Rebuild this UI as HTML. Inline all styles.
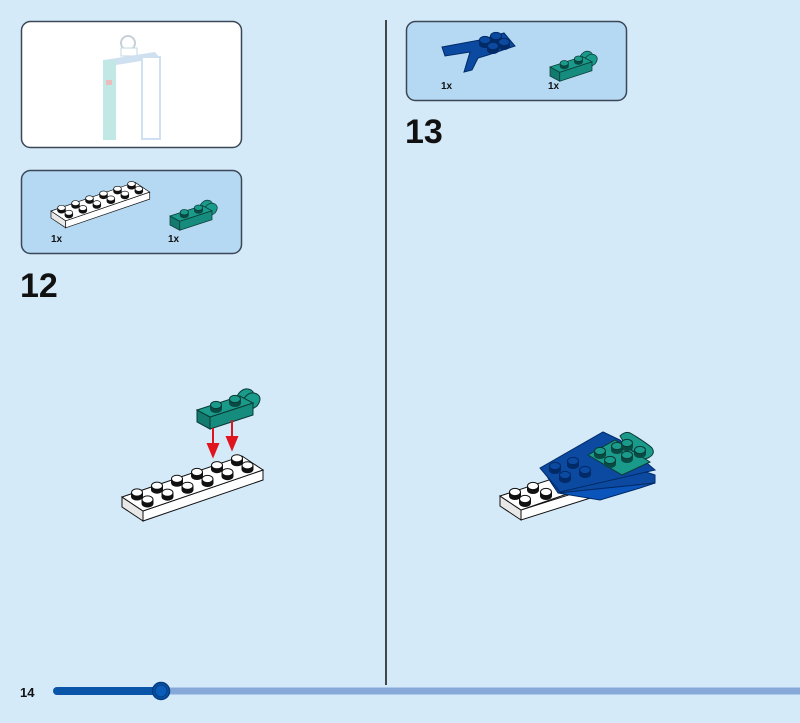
<!DOCTYPE html>
<html><head><meta charset="utf-8"><style>
html,body{margin:0;padding:0;background:#d4eaf9;}
body{width:800px;height:718px;overflow:hidden;font-family:"Liberation Sans",sans-serif;}
</style></head><body>
<svg width="800" height="718" viewBox="0 0 800 718" xmlns="http://www.w3.org/2000/svg">
<defs>
 <g id="ws"><ellipse cx="0" cy="0" rx="6" ry="4" fill="#111"/><rect x="-6" y="-4" width="12" height="4" fill="#111"/><ellipse cx="0" cy="-4" rx="5.5" ry="3.6" fill="#fff" stroke="#111" stroke-width="1"/></g>
 <g id="gs"><ellipse cx="0" cy="0" rx="6" ry="4" fill="#0a4a44"/><rect x="-6" y="-4" width="12" height="4" fill="#0a4a44"/><ellipse cx="0" cy="-4" rx="5.5" ry="3.6" fill="#1a9a8a" stroke="#0a3a34" stroke-width="1"/></g>
 <g id="bs"><ellipse cx="0" cy="0" rx="6" ry="4" fill="#012a66"/><rect x="-6" y="-4" width="12" height="4" fill="#012a66"/><ellipse cx="0" cy="-4" rx="5.5" ry="3.6" fill="#0b4aa0" stroke="#012a66" stroke-width="1"/></g>
 <g id="plate">
  <polygon points="0,0 21,14 21,24 0,10" fill="#e8e8e8" stroke="#111" stroke-width="1"/>
  <polygon points="21,14 141,-27 141,-17 21,24" fill="#fff" stroke="#111" stroke-width="1"/>
  <polygon points="0,0 120,-41 141,-27 21,14" fill="#fff" stroke="#111" stroke-width="1"/>
  <use href="#ws" x="15" y="-0.5"/><use href="#ws" x="35" y="-7.3"/><use href="#ws" x="55" y="-14.2"/><use href="#ws" x="75" y="-21"/><use href="#ws" x="95" y="-27.8"/><use href="#ws" x="115" y="-34.7"/>
  <use href="#ws" x="25.5" y="6.5"/><use href="#ws" x="45.5" y="-0.3"/><use href="#ws" x="65.5" y="-7.2"/><use href="#ws" x="85.5" y="-14"/><use href="#ws" x="105.5" y="-20.8"/><use href="#ws" x="125.5" y="-27.7"/>
 </g>
 <g id="hinge">
  <path d="M40,-14 q6,-10 14,-6 q6,4 0,12 l-6,4z" fill="#1a9a8a" stroke="#0a3a34"/>
  <path d="M46,-10 q6,-10 14,-6 q6,4 0,12 l-6,4z" fill="#1a9a8a" stroke="#0a3a34"/>
  <polygon points="0,0 13,7 13,19 0,12" fill="#127a6e" stroke="#0a3a34"/>
  <polygon points="13,7 56,-7 56,5 13,19" fill="#168c7e" stroke="#0a3a34"/>
  <polygon points="0,0 43,-14 56,-7 13,7" fill="#1a9a8a" stroke="#0a3a34"/>
  <use href="#gs" x="19" y="-1"/><use href="#gs" x="38" y="-7"/>
 </g>
</defs>

<!-- top-left box -->
<rect x="21.5" y="21.5" width="220" height="126" rx="9" fill="#fff" stroke="#3a4756" stroke-width="1.5"/>
<g opacity="0.55">
 <ellipse cx="128" cy="43" rx="7" ry="7" fill="none" stroke="#9ab" stroke-width="2"/>
 <rect x="121" y="48" width="16" height="8" fill="#fff" stroke="#9bc"/>
 <polygon points="104,60 155,52 160,58 110,66" fill="#a9c9e6"/>
 <rect x="103" y="60" width="13" height="80" fill="#8fd6cf"/>
 <rect x="142" y="57" width="18" height="82" fill="#fff" stroke="#a9c9e6" stroke-width="2"/>
 <rect x="106" y="80" width="6" height="5" fill="#d88"/>
</g>

<!-- parts box step 12 -->
<rect x="21.5" y="170.5" width="220" height="83" rx="9" fill="#b6d9f3" stroke="#3a4756" stroke-width="1.5"/>
<g transform="translate(51,211) scale(0.7)"><use href="#plate"/></g>
<g transform="translate(170,216) scale(0.75)"><use href="#hinge"/></g>
<text x="51" y="242" font-size="10" font-weight="bold" fill="#111">1x</text>
<text x="168" y="242" font-size="10" font-weight="bold" fill="#111">1x</text>

<text x="20" y="297" font-size="34" font-weight="bold" fill="#111">12</text>

<!-- step 12 model -->
<g transform="translate(122,497)"><use href="#plate"/></g>
<g transform="translate(197,410)"><use href="#hinge"/></g>
<g stroke="#e0141e" stroke-width="2" fill="#e0141e">
 <line x1="213" y1="428" x2="213" y2="447"/><polygon points="208,444 218,444 213,456"/>
 <line x1="232" y1="420" x2="232" y2="440"/><polygon points="227,437 237,437 232,449"/>
</g>

<!-- divider -->
<line x1="386" y1="20" x2="386" y2="685" stroke="#111" stroke-width="1.5"/>

<!-- parts box step 13 -->
<rect x="406.5" y="21.5" width="220" height="79" rx="9" fill="#b6d9f3" stroke="#3a4756" stroke-width="1.5"/>
<polygon points="442,47 480,40 504,33 515,46 488,55 478,58 472,70 464,72 470,52 445,56" fill="#0b4aa0" stroke="#012a66"/>
<use href="#bs" x="485" y="44"/><use href="#bs" x="496" y="40"/><use href="#bs" x="493" y="50"/><use href="#bs" x="504" y="46"/>
<g transform="translate(550,67) scale(0.75)"><use href="#hinge"/></g>
<text x="441" y="89" font-size="10" font-weight="bold" fill="#111">1x</text>
<text x="548" y="89" font-size="10" font-weight="bold" fill="#111">1x</text>

<text x="405" y="143" font-size="34" font-weight="bold" fill="#111">13</text>

<!-- step 13 model -->
<polygon points="500,496 521,510 521,520 500,506" fill="#e8e8e8" stroke="#111"/>
<polygon points="521,510 600,485 600,495 521,520" fill="#fff" stroke="#111"/>
<polygon points="500,496 555,478 590,486 521,510" fill="#fff" stroke="#111"/>
<use href="#ws" x="515" y="496"/><use href="#ws" x="533" y="490"/><use href="#ws" x="525" y="503"/><use href="#ws" x="546" y="496"/>
<path d="M620,436 q6,-6 12,-2 q16,10 20,14 q4,6 -4,10 l-12,4z" fill="#1a9a8a" stroke="#0a3a34"/>
<polygon points="548,478 558,493 655,483 655,475 640,470" fill="#0b4aa0" stroke="#012a66"/>
<polygon points="558,493 600,500 640,488 655,483" fill="#0a55bb" stroke="#012a66"/>
<polygon points="540,468 603,432 620,440 655,470 560,492" fill="#0b4aa0" stroke="#012a66"/>
<polygon points="588,455 615,440 650,462 622,475" fill="#1a9a8a" stroke="#0a3a34"/>
<use href="#bs" x="555" y="470"/><use href="#bs" x="573" y="465"/><use href="#bs" x="565" y="479"/><use href="#bs" x="585" y="474"/>
<use href="#gs" x="600" y="455"/><use href="#gs" x="617" y="450"/><use href="#gs" x="610" y="464"/><use href="#gs" x="627" y="459"/>
<use href="#gs" x="627" y="447"/><use href="#gs" x="640" y="454"/>

<!-- footer -->
<text x="20" y="697" font-size="13" font-weight="bold" fill="#111">14</text>
<line x1="161" y1="691" x2="800" y2="691" stroke="#86a9da" stroke-width="7"/>
<line x1="57" y1="691" x2="161" y2="691" stroke="#0a55aa" stroke-width="8" stroke-linecap="round"/>
<circle cx="161" cy="691" r="8.5" fill="#0a55aa" stroke="#033a80" stroke-width="1.5"/>
<circle cx="161" cy="691" r="6" fill="#0b5cb8" stroke="#033a80" stroke-width="1"/>
</svg>
</body></html>
